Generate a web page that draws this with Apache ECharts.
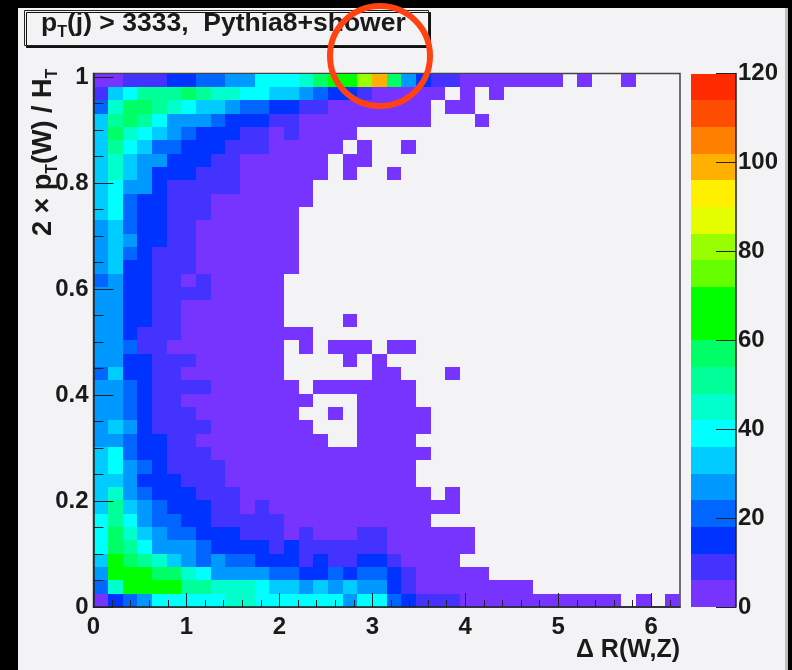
<!DOCTYPE html>
<html>
<head>
<meta charset="utf-8">
<title>pT(j) > 3333, Pythia8+shower</title>
<script src="https://cdn.jsdelivr.net/npm/echarts@6/dist/echarts.min.js"></script>
<style>
  html, body { margin: 0; padding: 0; background: #000; }
  #panel { position: absolute; left: 18px; top: 8px; width: 767px; height: 662px; background: #f3f3f5; border-right: 3px solid #bdbdbd; }
  #mainChart { position: absolute; left: 0; top: 0; width: 792px; height: 670px; }
</style>
</head>
<body>
<div id="panel"></div>
<div id="mainChart"></div>
<script>
// axis ranges and ticks
var xMax = 6.31;
var yMax = 1.0066;
var xTicks = [0, 1, 2, 3, 4, 5, 6];
var xMinorTicks = [0.2, 0.4, 0.6, 0.8, 1.2, 1.4, 1.6, 1.8, 2.2, 2.4, 2.6, 2.8, 3.2, 3.4, 3.6, 3.8, 4.2, 4.4, 4.6, 4.8, 5.2, 5.4, 5.6, 5.8, 6.2];
var yTicks = [0, 0.2, 0.4, 0.6, 0.8, 1];
var yMinorTicks = [0.05, 0.1, 0.15, 0.25, 0.3, 0.35, 0.45, 0.5, 0.55, 0.65, 0.7, 0.75, 0.85, 0.9, 0.95];
var zTicks = [0, 20, 40, 60, 80, 100, 120];

// colour bands, one per 6 counts, from the bottom of the palette
var bandEdges = [0, 6, 12, 18, 24, 30, 36, 42, 48, 54, 60, 66, 72, 78, 84, 90, 96, 102, 108, 114, 120];
var bandColors = ['#7733ff', '#4433ff', '#0033ff', '#0066ff', '#0099ff', '#00ccff', '#00ffff', '#00ffcc', '#00ff99', '#00ff66',
    '#00ff00', '#00ff00', '#66ff00', '#99ff00', '#e6ff00', '#fff000', '#ffb000', '#ff8000', '#ff4d00', '#ff2a00'];

// counts per bin, first row is the top of the plot, 0 means empty, rows stop at their last filled bin
var counts = [
    [3, 3, 9, 9, 9, 15, 15, 21, 21, 27, 27, 39, 39, 39, 45, 57, 63, 63, 81, 99, 57, 27, 15, 9, 9, 3, 3, 3, 3, 3, 3, 3, 0, 3, 0, 0, 3],
    [9, 33, 39, 51, 51, 51, 57, 51, 45, 45, 39, 39, 33, 33, 27, 21, 15, 15, 9, 3, 3, 3, 3, 3, 0, 3, 0, 3],
    [21, 45, 57, 57, 51, 45, 39, 33, 33, 27, 21, 21, 15, 15, 9, 9, 3, 3, 3, 3, 3, 3, 3, 0, 3, 3],
    [33, 51, 57, 51, 39, 27, 27, 27, 21, 15, 15, 15, 9, 9, 3, 3, 3, 3, 3, 3, 3, 3, 3, 0, 0, 0, 3],
    [33, 57, 45, 39, 33, 27, 21, 15, 15, 15, 9, 9, 3, 9, 3, 3, 3, 3],
    [33, 51, 39, 33, 21, 21, 15, 15, 15, 9, 9, 9, 3, 3, 3, 3, 3, 0, 3, 0, 0, 3],
    [33, 45, 33, 27, 27, 15, 15, 15, 9, 9, 3, 3, 3, 3, 3, 3, 0, 3, 3],
    [33, 45, 33, 27, 15, 15, 15, 9, 9, 9, 3, 3, 3, 3, 3, 3, 0, 3, 0, 0, 3],
    [33, 39, 27, 27, 15, 9, 9, 9, 9, 9, 3, 3, 3, 3, 3],
    [33, 39, 21, 15, 15, 9, 9, 9, 3, 3, 3, 3, 3, 3, 3],
    [33, 39, 21, 15, 15, 9, 9, 9, 3, 3, 3, 3, 3, 3],
    [27, 33, 21, 15, 15, 9, 9, 3, 3, 3, 3, 3, 3, 3],
    [27, 33, 27, 15, 15, 9, 9, 3, 3, 3, 3, 3, 3, 3],
    [27, 33, 21, 15, 9, 9, 9, 3, 3, 3, 3, 3, 3, 3],
    [27, 33, 15, 15, 9, 9, 9, 3, 3, 3, 3, 3, 3, 3],
    [21, 27, 15, 15, 9, 9, 3, 9, 3, 3, 3, 3, 3],
    [27, 27, 15, 15, 9, 9, 9, 9, 3, 3, 3, 3, 3],
    [27, 27, 15, 15, 9, 9, 3, 3, 3, 3, 3, 3, 3],
    [27, 27, 15, 15, 9, 9, 3, 3, 3, 3, 3, 3, 3, 0, 0, 0, 0, 3],
    [27, 27, 15, 9, 9, 9, 3, 3, 3, 3, 3, 3, 3, 3, 3],
    [27, 27, 21, 9, 9, 3, 3, 3, 3, 3, 3, 3, 3, 0, 3, 0, 3, 3, 3, 0, 3, 3],
    [27, 27, 15, 15, 9, 9, 9, 3, 3, 3, 3, 3, 3, 0, 0, 0, 0, 3, 0, 3],
    [21, 33, 15, 15, 9, 9, 3, 3, 3, 3, 3, 3, 3, 0, 0, 0, 0, 0, 0, 3, 3, 0, 0, 0, 3],
    [27, 27, 21, 15, 9, 9, 9, 9, 3, 3, 3, 3, 3, 3, 0, 3, 3, 3, 3, 3, 3, 3],
    [27, 27, 21, 15, 9, 9, 3, 3, 3, 3, 3, 3, 3, 3, 3, 0, 0, 0, 3, 3, 3, 3],
    [27, 27, 21, 15, 9, 9, 9, 3, 3, 3, 3, 3, 3, 3, 0, 0, 3, 0, 3, 3, 3, 3, 3],
    [27, 33, 27, 15, 9, 9, 9, 9, 3, 3, 3, 3, 3, 3, 3, 0, 0, 0, 3, 3, 3, 3, 3],
    [27, 27, 21, 15, 15, 9, 9, 3, 3, 3, 3, 3, 3, 3, 3, 3, 0, 0, 3, 3, 3, 3],
    [33, 39, 21, 15, 15, 9, 9, 9, 3, 3, 3, 3, 3, 3, 3, 3, 3, 3, 3, 3, 3, 3, 3],
    [33, 39, 27, 21, 15, 9, 9, 9, 9, 3, 3, 3, 3, 3, 3, 3, 3, 3, 3, 3, 3, 3],
    [33, 33, 27, 15, 15, 15, 9, 9, 9, 3, 3, 3, 3, 3, 3, 3, 3, 3, 3, 3, 3, 3],
    [33, 45, 27, 21, 15, 15, 15, 9, 9, 9, 3, 3, 3, 3, 3, 3, 3, 3, 3, 3, 3, 3, 3, 0, 3],
    [33, 51, 33, 27, 21, 15, 15, 15, 9, 9, 3, 9, 3, 3, 3, 3, 3, 3, 3, 3, 3, 3, 3, 3, 3],
    [39, 51, 39, 27, 21, 21, 15, 15, 9, 9, 9, 9, 9, 3, 3, 3, 3, 3, 3, 3, 3, 3, 3],
    [39, 57, 45, 33, 27, 21, 21, 15, 15, 15, 9, 9, 9, 3, 9, 3, 3, 3, 9, 9, 3, 3, 3, 3, 3, 3],
    [39, 57, 51, 39, 27, 27, 27, 21, 15, 15, 15, 15, 9, 15, 9, 9, 9, 9, 9, 9, 3, 3, 3, 3, 3, 3],
    [33, 63, 57, 51, 45, 33, 27, 21, 27, 21, 21, 15, 15, 15, 9, 15, 9, 9, 15, 15, 9, 3, 3, 3, 3],
    [27, 63, 63, 63, 57, 57, 45, 39, 27, 27, 27, 27, 21, 21, 15, 15, 21, 15, 21, 21, 15, 9, 3, 3, 3, 3, 3],
    [21, 45, 63, 63, 63, 63, 51, 51, 45, 45, 45, 39, 33, 33, 27, 33, 27, 33, 27, 27, 15, 9, 3, 3, 3, 3, 3, 3, 3, 3],
    [3, 15, 21, 27, 39, 39, 39, 39, 39, 45, 45, 39, 39, 39, 39, 39, 39, 27, 39, 39, 21, 15, 9, 9, 9, 3, 3, 3, 3, 3, 3, 3, 3, 3, 3, 3, 0, 3, 0, 3]
];

var binCountX = 40;
var binCountY = counts.length;
var textColor = '#1a1a1a';
var lineColor = '#222';
var boldFont = '"Liberation Sans", Arial, sans-serif';

// [column, row from the bottom, count]
var cells = [];
counts.forEach(function (row, r) {
    row.forEach(function (v, c) {
        if (v > 0) {
            cells.push([c, binCountY - 1 - r, v]);
        }
    });
});

var bands = bandColors.map(function (color, i) {
    return [bandEdges[i], bandEdges[i + 1]];
});

function bandColor(v) {
    for (var i = 0; i < bandColors.length; i++) {
        if (v < bandEdges[i + 1]) {
            return bandColors[i];
        }
    }
    return bandColors[bandColors.length - 1];
}

function renderCell(params, api) {
    var c = api.value(0), r = api.value(1);
    var p0 = api.coord([c * xMax / binCountX, (r + 1) * yMax / binCountY]);
    var p1 = api.coord([(c + 1) * xMax / binCountX, r * yMax / binCountY]);
    var x0 = Math.round(p0[0]), y0 = Math.round(p0[1]);
    return {
        type: 'rect',
        shape: { x: x0, y: y0, width: Math.round(p1[0]) - x0, height: Math.round(p1[1]) - y0 },
        style: { fill: bandColor(api.value(2)) }
    };
}

function renderBand(params, api) {
    var p0 = api.coord([0, api.value(1)]);
    var p1 = api.coord([1, api.value(0)]);
    var y0 = Math.round(p0[1]);
    return {
        type: 'rect',
        shape: { x: p0[0], y: y0, width: p1[0] - p0[0], height: Math.round(p1[1]) - y0 },
        style: { fill: bandColors[params.dataIndex] }
    };
}

var tickLabel = {
    fontFamily: boldFont,
    fontWeight: 'bold',
    fontSize: 24,
    color: textColor
};

var titleRich = {
    n: { fontFamily: boldFont, fontWeight: 'bold', fontSize: 26.5, color: textColor },
    s: { fontFamily: boldFont, fontWeight: 'bold', fontSize: 16, color: textColor, padding: [19, 0, 0, 0] }
};

var option = {
    animation: false,
    title: {
        text: '{n|p}{s|T}{n|(j) > 3333,  Pythia8+shower}',
        textStyle: { rich: titleRich },
        left: 24,
        top: 6,
        padding: [0, 23, 5, 17],
        backgroundColor: '#f3f3f5',
        borderColor: '#222',
        borderWidth: 1,
        shadowColor: '#111',
        shadowOffsetX: 2,
        shadowOffsetY: 2
    },
    grid: [{
        left: 93.5,
        top: 73.5,
        width: 586.5,
        height: 533.5,
        show: true,
        borderColor: '#444',
        borderWidth: 1.5,
        backgroundColor: 'transparent'
    }, {
        left: 691,
        top: 73.5,
        width: 45,
        height: 533.5
    }],
    xAxis: [{
        type: 'value',
        gridIndex: 0,
        position: 'bottom',
        min: 0,
        max: xMax,
        z: 5,
        name: 'Δ R(W,Z)',
        nameLocation: 'end',
        nameGap: 0,
        nameMoveOverlap: false,
        nameTextStyle: {
            fontFamily: boldFont, fontWeight: 'bold', fontSize: 25, color: textColor,
            align: 'right', verticalAlign: 'top', padding: [31, 0, 0, 0]
        },
        splitLine: { show: false },
        axisLine: { onZero: false, lineStyle: { color: lineColor, width: 1.5 } },
        axisTick: { inside: true, length: 14, customValues: xTicks, lineStyle: { color: lineColor } },
        axisLabel: Object.assign({ customValues: xTicks, margin: 8, formatter: String }, tickLabel)
    }, {
        type: 'value',
        gridIndex: 0,
        position: 'bottom',
        min: 0,
        max: xMax,
        z: 5,
        splitLine: { show: false },
        axisLine: { show: false, onZero: false },
        axisLabel: { show: false },
        axisTick: { inside: true, length: 7, customValues: xMinorTicks, lineStyle: { color: lineColor } }
    }, {
        type: 'value',
        gridIndex: 1,
        min: 0,
        max: 1,
        show: false
    }],
    yAxis: [{
        type: 'value',
        gridIndex: 0,
        position: 'left',
        min: 0,
        max: yMax,
        z: 5,
        splitLine: { show: false },
        axisLine: { onZero: false, lineStyle: { color: lineColor, width: 1.5 } },
        axisTick: { inside: true, length: 20, customValues: yTicks, lineStyle: { color: lineColor } },
        axisLabel: Object.assign({ customValues: yTicks, margin: 5, formatter: String }, tickLabel)
    }, {
        type: 'value',
        gridIndex: 0,
        position: 'left',
        min: 0,
        max: yMax,
        z: 5,
        splitLine: { show: false },
        axisLine: { show: false, onZero: false },
        axisLabel: { show: false },
        axisTick: { inside: true, length: 10, customValues: yMinorTicks, lineStyle: { color: lineColor } }
    }, {
        type: 'value',
        gridIndex: 1,
        position: 'right',
        min: 0,
        max: 120,
        z: 5,
        splitLine: { show: false },
        axisLine: { onZero: false, lineStyle: { color: lineColor, width: 1.5 } },
        axisTick: { inside: true, length: 20, customValues: zTicks, lineStyle: { color: lineColor } },
        axisLabel: Object.assign({ customValues: zTicks, margin: 2, formatter: String }, tickLabel)
    }],
    series: [{
        type: 'custom',
        name: 'counts',
        xAxisIndex: 0,
        yAxisIndex: 0,
        renderItem: renderCell,
        data: cells
    }, {
        type: 'custom',
        name: 'palette',
        xAxisIndex: 2,
        yAxisIndex: 2,
        renderItem: renderBand,
        data: bands
    }],
    graphic: [{
        type: 'text',
        z: 20,
        x: 26,
        y: 236,
        rotation: Math.PI / 2,
        style: {
            text: '{n|2 × p}{s|T}{n|(W) / H}{s|T}',
            rich: {
                n: { fontFamily: boldFont, fontWeight: 'bold', fontSize: 27, fill: textColor },
                s: { fontFamily: boldFont, fontWeight: 'bold', fontSize: 16, fill: textColor, padding: [19, 0, 0, 0] }
            }
        }
    }, {
        type: 'circle',
        z: 30,
        shape: { cx: 380, cy: 56, r: 50 },
        style: { fill: 'none', stroke: '#ff4212', lineWidth: 6 }
    }]
};

var myChart = echarts.init(document.getElementById('mainChart'));
myChart.setOption(option);
</script>
</body>
</html>
